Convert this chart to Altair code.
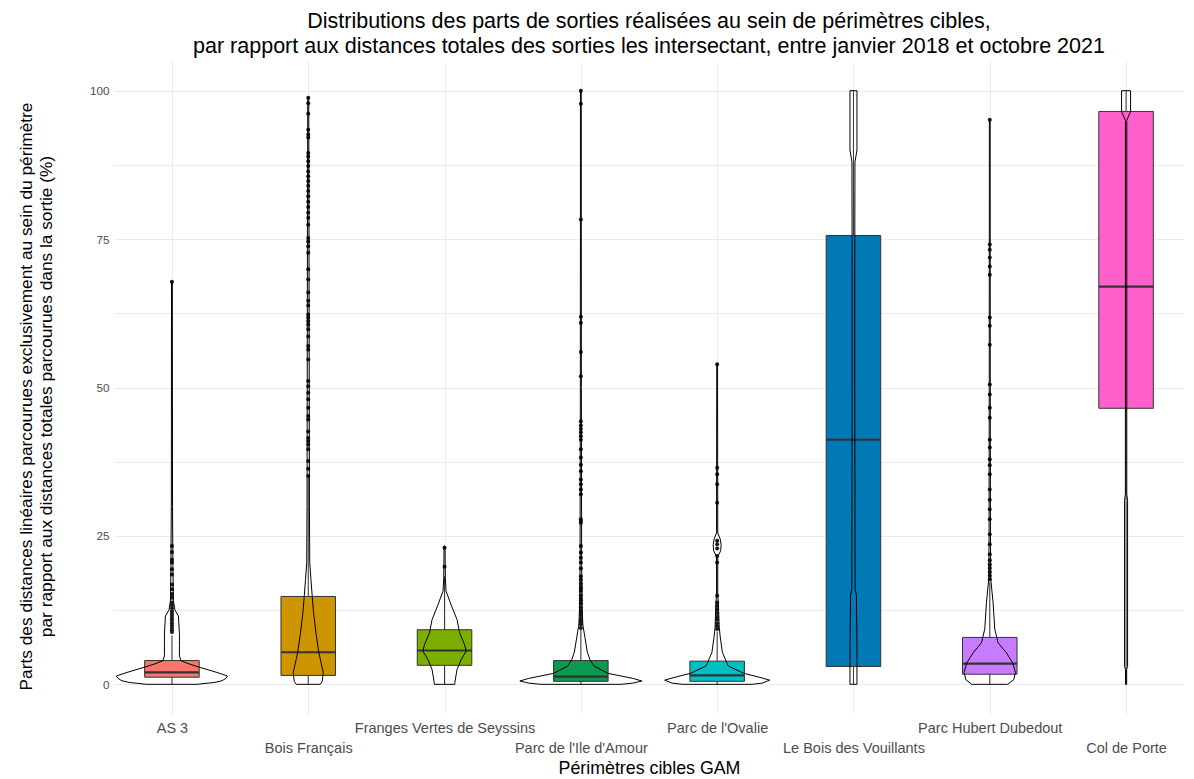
import json
import altair as alt
import pandas as pd

# ---------------- data ----------------
categories = [
    "AS 3", "Bois Français", "Franges Vertes de Seyssins", "Parc de l'Ile d'Amour",
    "Parc de l'Ovalie", "Le Bois des Vouillants", "Parc Hubert Dubedout", "Col de Porte",
]
fill_colors = ["#F8766D", "#CD9600", "#7CAE00", "#0B9A4F", "#00BFC4", "#0079B4", "#C77CFF", "#FF61CC"]

lower_whisker = [0, 0, 0, 0, 0, 0, 0, 0]
q1 = [1.2, 1.5, 3.2, 0.5, 0.5, 3.0, 1.7, 46.5]
median = [2.0, 5.4, 5.7, 1.3, 1.5, 41.2, 3.5, 67.0]
q3 = [4.0, 14.8, 9.2, 4.0, 3.9, 75.6, 7.9, 96.5]
upper_whisker = [8.2, 34.8, 18.2, 9.2, 8.9, 100, 17.2, 100]

outliers = {
    "AS 3": [67.8, 23.3, 22.3, 21.0, 20.5, 19.4, 18.5, 16.8, 16.0, 15.2, 14.6, 13.8, 13.3,
             12.8, 12.3, 11.9, 11.5, 11.1, 10.7, 10.3, 9.9, 9.5, 9.1, 8.8],
    "Bois Français": [35.1, 36.3, 37.6, 39.6, 40.4, 41.0, 41.5, 42.6, 44.6, 45.2, 46.6, 48.0,
                      49.1, 50.2, 51.1, 54.7, 56.4, 57.0, 58.6, 59.8, 60.6, 61.2, 61.8, 62.3,
                      63.8, 64.6, 66.0, 68.2, 69.9, 72.7, 73.8, 74.6, 75.2, 77.4, 78.6, 79.5,
                      80.4, 81.3, 82.2, 83.1, 84.0, 84.8, 85.6, 86.4, 87.3, 88.1, 88.9, 89.5,
                      92.1, 92.6, 93.4, 96.1, 97.9, 98.8],
    "Franges Vertes de Seyssins": [19.8, 23.0],
    "Parc de l'Ile d'Amour": [9.5, 10.1, 10.6, 11.0, 11.6, 12.1, 12.4, 13.0, 13.6, 14.1, 14.4,
                              15.0, 15.7, 16.1, 16.4, 17.0, 17.6, 18.2, 19.5, 20.5, 21.3, 22.2,
                              23.3, 27.2, 27.5, 27.8, 32.0, 32.8, 33.7, 34.5, 35.9, 37.0, 38.2,
                              39.6, 41.2, 41.8, 42.4, 43.0, 43.6, 44.3, 51.9, 56.0, 60.9, 61.9,
                              78.3, 97.8, 100.0],
    "Parc de l'Ovalie": [9.3, 9.8, 10.3, 10.9, 11.4, 12.0, 12.6, 13.2, 13.8, 14.9, 20.5, 21.6,
                         22.9, 23.6, 24.2, 30.6, 33.7, 35.4, 36.5, 53.9],
    "Le Bois des Vouillants": [],
    "Parc Hubert Dubedout": [17.7, 18.3, 18.9, 19.6, 20.2, 20.9, 21.9, 23.6, 25.3, 27.8, 29.5,
                             31.1, 32.8, 35.4, 36.9, 37.9, 39.9, 41.2, 44.9, 46.6, 48.8, 50.5,
                             57.2, 60.4, 61.8, 69.0, 70.4, 71.9, 73.2, 74.1, 95.1],
    "Col de Porte": [],
}

# violin outlines: levels (%) and half widths (density, in 1/136 of a category step)
violin_levels = {
    "AS 3": [0, 0.3, 0.6, 1.0, 1.4, 2.0, 2.8, 3.5, 4.0, 4.8, 6.5, 8.5, 11.5, 12.5, 14, 20, 30, 67.8],
    "Bois Français": [0, 0.5, 2, 3.5, 5.4, 8.7, 12.1, 14.8, 17.7, 20.5, 30, 50, 75, 98.8],
    "Franges Vertes de Seyssins": [0, 0.3, 2.5, 4.2, 5.6, 6.7, 8.7, 10.9, 13.2, 15.7, 18, 23.3],
    "Parc de l'Ile d'Amour": [0, 0.2, 0.56, 1.0, 1.85, 3.1, 4.2, 5.4, 8, 10, 13, 20, 50, 100],
    "Parc de l'Ovalie": [0, 0.2, 0.7, 1.2, 1.85, 3.1, 5.4, 8.1, 9.8, 13.8, 15, 21.5, 22.5, 23.5,
                         24.5, 25.5, 40, 53.9],
    "Le Bois des Vouillants": [0, 7, 7.5, 11, 12, 15, 16, 30, 50, 70, 88, 90, 100],
    "Parc Hubert Dubedout": [0, 0.8, 2.0, 3.6, 5.3, 7.0, 9.3, 13.8, 17.7, 25, 50, 95.1],
    "Col de Porte": [0, 2.5, 3, 31, 32, 95, 96.5, 100],
}
violin_width = {
    "AS 3": [25, 42, 50, 54, 55.5, 45, 29, 16, 9, 7.5, 7.5, 7.5, 6.5, 3, 1.5, 1, 0.6, 0.4],
    "Bois Français": [12, 14, 15, 13, 10.5, 7.7, 5.3, 4, 2.7, 1.5, 1.2, 1.0, 0.8, 0.5],
    "Franges Vertes de Seyssins": [10.3, 10.3, 12.5, 16.7, 21.7, 20, 15, 12.5, 7, 1.5, 0.8, 0.5],
    "Parc de l'Ile d'Amour": [40, 52, 61, 52, 27, 13, 9, 6.5, 4, 2, 1.2, 0.8, 0.5, 0.4],
    "Parc de l'Ovalie": [35, 45, 52.5, 42, 26.7, 11, 5.2, 3, 2, 1.2, 0.6, 0.6, 3.5, 4, 3, 0.6,
                         0.5, 0.4],
    "Le Bois des Vouillants": [3.5, 3.5, 3.3, 3.3, 3.0, 3.0, 1.7, 1.5, 1.3, 1.3, 1.5, 3.5, 3.5],
    "Parc Hubert Dubedout": [18, 24, 25.7, 23, 16.7, 8.3, 5, 3.3, 1, 0.7, 0.5, 0.4],
    "Col de Porte": [0.6, 0.6, 1.5, 1.5, 0.7, 0.7, 4.5, 4.5],
}

y_ticks = [0, 12.5, 25, 37.5, 50, 62.5, 75, 87.5, 100]

title_lines = [
    "Distributions des parts de sorties réalisées au sein de périmètres cibles,",
    "par rapport aux distances totales des sorties les intersectant, entre janvier 2018 et octobre 2021",
]
y_title = [
    "Parts des distances linéaires parcourues exclusivement au sein du périmètre",
    "par rapport aux distances totales parcourues dans la sortie (%)",
]
x_title = "Périmètres cibles GAM"

# ---------------- tables ----------------
STEP = 136.3          # density unit -> category step
BOX_HALF = 0.2
positions = list(range(1, len(categories) + 1))

box_df = pd.DataFrame({
    "cat": categories, "pos": positions, "q1": q1, "med": median, "q3": q3,
    "lw": lower_whisker, "uw": upper_whisker,
})
box_df["x0"] = box_df["pos"] - BOX_HALF
box_df["x1"] = box_df["pos"] + BOX_HALF

out_rows = []
for p, c in zip(positions, categories):
    for v in outliers[c]:
        out_rows.append({"cat": c, "pos": p, "v": v})
out_df = pd.DataFrame(out_rows)

vio_rows = []
for p, c in zip(positions, categories):
    for v, w in zip(violin_levels[c], violin_width[c]):
        vio_rows.append({"cat": c, "v": v, "left": p - w / STEP, "right": p + w / STEP})
vio_df = pd.DataFrame(vio_rows)

# ---------------- scales / axes ----------------
FONT = "Liberation Sans"
names_js = json.dumps(categories, ensure_ascii=False)
x_label_expr = (
    f"(datum.value % 2 == 0) ? ['', {names_js}[datum.value - 1]] : {names_js}[datum.value - 1]"
)

xscale = alt.Scale(domain=[0.575, 8.425], nice=False, zero=False)
yscale = alt.Scale(domain=[-5, 105], nice=False, zero=False)

xaxis = alt.Axis(
    values=positions, labelExpr=x_label_expr, title=x_title,
    grid=True, gridColor="#EBEBEB", gridWidth=1, ticks=False, domain=False,
    labelOverlap=False, labelFlush=False, labelLimit=500, labelColor="#4D4D4D",
    labelFontSize=14.5, labelFont=FONT, labelPadding=7, labelLineHeight=20,
    labelBaseline="top",
    titleFont=FONT, titleFontSize=17.8, titleFontWeight="normal", titleColor="black",
    titlePadding=5,
)
yaxis = alt.Axis(
    values=y_ticks, labelExpr="datum.value % 25 == 0 ? format(datum.value, 'd') : ''",
    title=y_title, grid=True, gridColor="#EBEBEB", gridWidth=1, ticks=False, domain=False,
    labelColor="#4D4D4D", labelFontSize=11.7, labelFont=FONT, labelPadding=5,
    titleFont=FONT, titleFontSize=17.3, titleFontWeight="normal", titleColor="black",
    titleLineHeight=20, titlePadding=34, titleY=335,
)


def X(field):
    return alt.X(f"{field}:Q", scale=xscale, axis=xaxis)


def Y(field):
    return alt.Y(f"{field}:Q", scale=yscale, axis=yaxis)


color = alt.Color("cat:N", scale=alt.Scale(domain=categories, range=fill_colors), legend=None)

boxes = alt.Chart(box_df).mark_rect(stroke="#333333", strokeWidth=1).encode(
    x=X("x0"), x2="x1", y=Y("q1"), y2="q3", color=color
)
whisk_lo = alt.Chart(box_df).mark_rule(color="#333333", strokeWidth=1).encode(
    x=X("pos"), y=Y("lw"), y2="q1"
)
whisk_hi = alt.Chart(box_df).mark_rule(color="#333333", strokeWidth=1).encode(
    x=X("pos"), y=Y("q3"), y2="uw"
)
medians = alt.Chart(box_df).mark_rule(color="#333333", strokeWidth=2.2).encode(
    x=X("x0"), x2="x1", y=Y("med")
)
points = alt.Chart(out_df).mark_circle(size=16, color="#1A1A1A", opacity=1).encode(
    x=X("pos"), y=Y("v")
)
violins = alt.Chart(vio_df).mark_area(
    orient="horizontal", fill="white", fillOpacity=0, stroke="black", strokeWidth=1
).encode(
    y=Y("v"), x=X("left"), x2="right", detail="cat:N"
)

chart = alt.layer(boxes, whisk_lo, whisk_hi, medians, points, violins).properties(
    width=1070,
    height=653,
    padding={"left": 106, "top": 53, "right": 0, "bottom": 68},
    autosize=alt.AutoSizeParams(type="none"),
    background="white",
    title=alt.Title(
        title_lines, fontSize=21.5, fontWeight="normal", color="black", font=FONT,
        anchor="middle", lineHeight=25, offset=4,
    ),
).configure_view(strokeWidth=0)

chart.save("out.html", embed_options={"renderer": "svg", "actions": False})
